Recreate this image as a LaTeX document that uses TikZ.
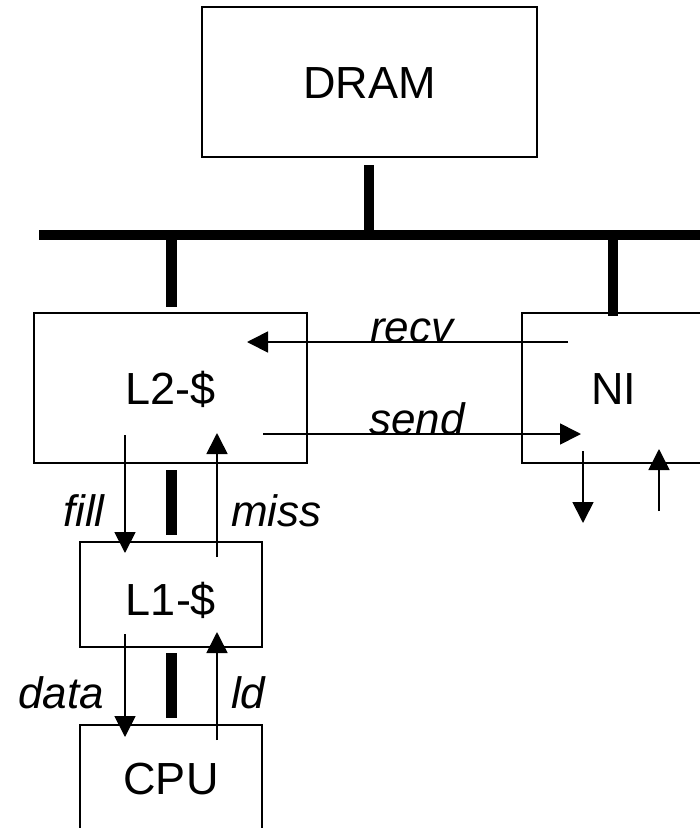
\documentclass[tikz,border=0pt]{standalone}
\usepackage{fontspec}
\setmainfont{Liberation Sans}
\usetikzlibrary{arrows.meta}
\begin{document}
\begin{tikzpicture}[x=1pt,y=-1pt,
  unit/.style={draw,line width=2pt,inner sep=0pt,font=\fontsize{45}{54}\selectfont,text height=32.2pt,text depth=0pt},
  busline/.style={line width=10.5pt},
  sig/.style={line width=1.7pt,-{Triangle[length=21pt,width=21pt]}},
  lbl/.style={anchor=base west,inner sep=0pt,font=\fontsize{44}{52}\selectfont\itshape}]
\useasboundingbox (0,0) rectangle (700,828);
\clip (0,0) rectangle (700,828);
% units
\node[unit,minimum width=335pt,minimum height=150pt] (dram) at (369.5,82) {DRAM};
\node[unit,minimum width=273pt,minimum height=150pt] (l2) at (170.5,388) {L2-\$};
\node[unit,minimum width=184pt,minimum height=150pt] (ni) at (614,388) {NI};
\node[unit,minimum width=182pt,minimum height=105pt] (l1) at (171,594.5) {\raisebox{-5pt}{L1-\$}};
\node[unit,minimum width=182pt,minimum height=106pt] (cpu) at (171,778) {CPU};
% bus and stubs
\coordinate (busL) at (39,235);
\coordinate (busR) at (710,235);
\draw[busline] (busL) -- (busR);
\coordinate (dramS) at (369,165);
\coordinate (dramB) at (369,232);
\draw[busline] (dramS) -- (dramB);
\coordinate (l2B) at (171.5,238);
\coordinate (l2S) at (171.5,307);
\draw[busline] (l2B) -- (l2S);
\coordinate (niB) at (613,238);
\coordinate (niS) at (613,316);
\draw[busline] (niB) -- (niS);
\coordinate (l2l1a) at (171.5,470);
\coordinate (l2l1b) at (171.5,535);
\draw[busline] (l2l1a) -- (l2l1b);
\coordinate (l1cpua) at (171.5,653);
\coordinate (l1cpub) at (171.5,718);
\draw[busline] (l1cpua) -- (l1cpub);
% signals
\coordinate (recvA) at (568,342);
\coordinate (recvB) at (247,342);
\draw[sig] (recvA) -- (recvB);
\coordinate (sendA) at (263,434);
\coordinate (sendB) at (581,434);
\draw[sig] (sendA) -- (sendB);
\coordinate (fillA) at (125,435);
\coordinate (fillB) at (125,553);
\draw[sig] (fillA) -- (fillB);
\coordinate (missA) at (217,557);
\coordinate (missB) at (217,433);
\draw[sig] (missA) -- (missB);
\coordinate (dataA) at (125,634);
\coordinate (dataB) at (125,737);
\draw[sig] (dataA) -- (dataB);
\coordinate (ldA) at (217,740);
\coordinate (ldB) at (217,632);
\draw[sig] (ldA) -- (ldB);
\coordinate (niDa) at (583,451);
\coordinate (niDb) at (583,523);
\draw[sig] (niDa) -- (niDb);
\coordinate (niUa) at (659,511);
\coordinate (niUb) at (659,449);
\draw[sig] (niUa) -- (niUb);
% labels
\node[lbl] (recvL) at (370,342) {recv};
\node[lbl] (sendL) at (369,434) {send};
\node[lbl] (fillL) at (63,526) {fill};
\node[lbl] (missL) at (231,526) {miss};
\node[lbl] (dataL) at (18,708) {data};
\node[lbl] (ldL) at (231,708) {ld};
\end{tikzpicture}
\end{document}
